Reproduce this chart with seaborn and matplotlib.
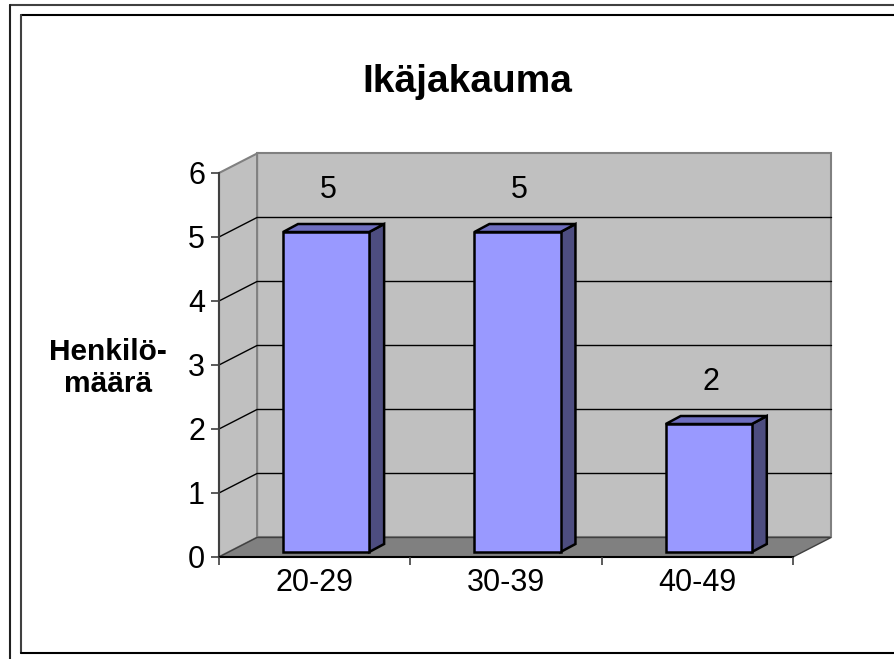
import matplotlib
matplotlib.use("Agg")
import matplotlib.pyplot as plt
import matplotlib.transforms as mtransforms
from matplotlib.patches import Polygon
from matplotlib.lines import Line2D
import seaborn as sns
import pandas as pd

# Age distribution data
categories = ["20-29", "30-39", "40-49"]
counts = [5, 5, 2]
y_ticks = [0, 1, 2, 3, 4, 5, 6]
title = "Ikäjakauma"
y_title = "Henkilö-\nmäärä"

sns.set_style("white")
plt.rcParams["font.family"] = ["Liberation Sans", "DejaVu Sans"]
plt.rcParams["text.color"] = "black"
plt.rcParams["xtick.labelcolor"] = "black"
plt.rcParams["ytick.labelcolor"] = "black"

W, H = 895, 659
fig = plt.figure(figsize=(W / 100, H / 100), dpi=100)
fig.patch.set_facecolor("white")

# front plane of the 3-D box
left_px, right_px, y0_px, y6_px = 219, 793, 557, 173
ax = fig.add_axes([left_px / W, 1 - y0_px / H,
                   (right_px - left_px) / W, (y0_px - y6_px) / H])
ax.set_facecolor("none")

df = pd.DataFrame({"ikä": categories, "määrä": counts})

# box depth vector (data units) and bar depth vector
DX, DY = 0.199, 0.305
BX, BY = 0.078, 0.125
SX, SY = 0.06, 0.078  # bars sit a little into the box

wall = "#C0C0C0"
edge = "#808080"
xl, xr = -0.5, 2.5
ytop = 6

# back wall
ax.add_patch(Polygon([(xl + DX, DY), (xr + DX, DY), (xr + DX, ytop + DY), (xl + DX, ytop + DY)],
                     closed=True, facecolor=wall, edgecolor=edge, lw=1.5, zorder=0.1, clip_on=False))
# side wall
ax.add_patch(Polygon([(xl, 0), (xl + DX, DY), (xl + DX, ytop + DY), (xl, ytop)],
                     closed=True, facecolor=wall, edgecolor=edge, lw=1.5, zorder=0.1, clip_on=False))
# floor
ax.add_patch(Polygon([(xl, 0), (xl + DX, DY), (xr + DX, DY), (xr, 0)],
                     closed=True, facecolor="#808080", edgecolor="#404040", lw=1.0, zorder=0.15, clip_on=False))

# gridlines on walls
for v in y_ticks[1:-1]:
    ax.add_line(Line2D([xl + DX, xr + DX], [v + DY, v + DY], color="black", lw=1.0, zorder=0.3, clip_on=False))
    ax.add_line(Line2D([xl, xl + DX], [v, v + DY], color="black", lw=1.0, zorder=0.3, clip_on=False))

# bars
sns.barplot(data=df, x="ikä", y="määrä", ax=ax, color="#9999FF", saturation=1,
            width=0.45, edgecolor="black", linewidth=1.8, zorder=2)

shift = mtransforms.Affine2D().translate(SX, SY) + ax.transData
for p in list(ax.patches):
    if p.get_zorder() != 2:
        continue
    p.set_transform(shift)
    p.set_clip_on(False)
    x0, w, h = p.get_x(), p.get_width(), p.get_height()
    side = Polygon([(x0 + w, 0), (x0 + w + BX, BY), (x0 + w + BX, h + BY), (x0 + w, h)],
                   closed=True, facecolor="#4D4D80", edgecolor="black", lw=1.8,
                   transform=shift, zorder=1.9, clip_on=False)
    top = Polygon([(x0, h), (x0 + w, h), (x0 + w + BX, h + BY), (x0 + BX, h + BY)],
                  closed=True, facecolor="#6E6EBF", edgecolor="black", lw=1.8,
                  transform=shift, zorder=1.9, clip_on=False)
    ax.add_patch(side)
    ax.add_patch(top)

# value labels
for i, v in enumerate(counts):
    ax.text(i + 0.07, v + 0.73, str(v), ha="center", va="center", fontsize=22, zorder=3)

ax.set_xlim(xl, xr)
ax.set_ylim(0, ytop)
ax.set_xlabel("")
ax.set_ylabel("")

for s in ["top", "right"]:
    ax.spines[s].set_visible(False)
ax.spines["left"].set_color("#404040")
ax.spines["left"].set_linewidth(1.5)
ax.spines["bottom"].set_color("black")
ax.spines["bottom"].set_linewidth(1.5)
ax.spines["left"].set_zorder(0.5)
ax.spines["bottom"].set_zorder(0.5)

ax.set_yticks(y_ticks)
ax.set_yticklabels([str(t) for t in y_ticks])
ax.tick_params(axis="y", direction="out", length=6, width=1.2, color="#404040",
               labelsize=22, pad=4, left=True, labelcolor="black")

# tick marks between categories, labels centred on categories
ax.set_xticks([-0.5, 0.5, 1.5, 2.5])
ax.set_xticklabels([])
ax.set_xticks([0, 1, 2], minor=True)
ax.set_xticklabels(categories, minor=True)
ax.tick_params(axis="x", which="major", direction="out", length=6, width=1.2,
               color="#404040", bottom=True)
ax.tick_params(axis="x", which="minor", length=0, labelsize=22, pad=8, labelcolor="black")

fig.text(467 / W, 1 - 82 / H, title, ha="center", va="center", fontsize=28, fontweight="bold")
fig.text(108 / W, 1 - 368 / H, y_title, ha="center", va="center", fontsize=21.5,
         fontweight="bold", multialignment="center", linespacing=1.15)

# frame lines around the chart area
def fline(xs, ys, color, lw):
    fig.add_artist(Line2D([x / W for x in xs], [1 - y / H for y in ys], color=color, lw=lw,
                          transform=fig.transFigure))

fline([10, W], [5, 5], "#404040", 1.5)
fline([10, 10], [5, H], "#202020", 1.5)
fline([21, W], [15, 15], "black", 1.5)
fline([21, 21], [15, 653], "#404040", 1.5)
fline([21, W], [653, 653], "black", 1.5)

fig.savefig("out.png", dpi=100)
